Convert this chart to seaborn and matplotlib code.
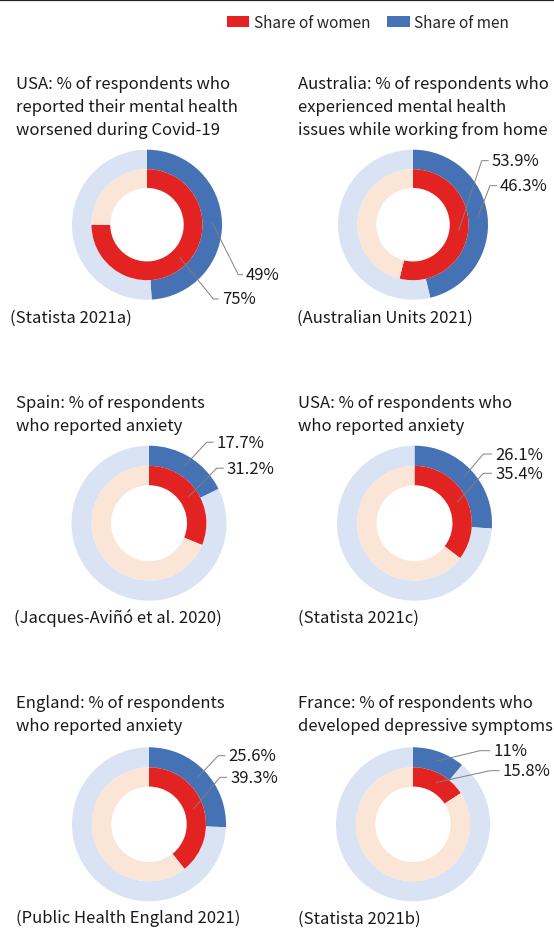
import matplotlib
matplotlib.use("Agg")
import matplotlib.pyplot as plt
from matplotlib.patches import Patch
from matplotlib.lines import Line2D
import seaborn as sns
import math

# data
titles = [
    "USA: % of respondents who\nreported their mental health\nworsened during Covid-19",
    "Australia: % of respondents who\nexperienced mental health\nissues while working from home",
    "Spain: % of respondents\nwho reported anxiety",
    "USA: % of respondents who\nwho reported anxiety",
    "England: % of respondents\nwho reported anxiety",
    "France: % of respondents who\ndeveloped depressive symptoms",
]
sources = [
    "(Statista 2021a)",
    "(Australian Units 2021)",
    "(Jacques-Aviñó et al. 2020)",
    "(Statista 2021c)",
    "(Public Health England 2021)",
    "(Statista 2021b)",
]
share_men = [49, 46.3, 17.7, 26.1, 25.6, 11]
share_women = [75, 53.9, 31.2, 35.4, 39.3, 15.8]

RED = "#E32322"
BLUE = "#4571B5"
LIGHT_BLUE = "#DAE3F3"
LIGHT_RED = "#FBE5D7"
GREY = "#808080"
TEXT = "#1a1a1a"

sns.set_theme(style="white")
plt.rcParams["font.family"] = ["Noto Sans CJK JP", "DejaVu Sans"]
FS = 12
LEG_FS = 11.1

W, H = 554, 929
fig = plt.figure(figsize=(W / 100, H / 100), dpi=100)

# layout in pixels: donut centre x, centre y, radius
centres = [(147, 225.7, 75), (413, 225.7, 75),
           (149, 524.2, 77.5), (414.5, 524.2, 77.5),
           (149, 825.3, 77), (413, 825.3, 77)]
title_x = [16, 298, 16, 298, 16, 298]
title_y = [89.3, 89.3, 408.3, 408.3, 708.3, 708.3]
source_x = [10, 297, 14, 298, 16, 298]
source_y = [322.5, 322.5, 623, 623, 923.5, 923.5]
# label layout relative to centre (px, y down): elbow x, elbow y, text x
men_lab = [(91.3, 50, 99), (77, -39, 87), (57.7, -81, 67.7),
           (68.8, -69.2, 80.5), (69.3, -68.6, 79.3), (67, -73.6, 80.3)]
women_lab = [(66.3, 74.3, 74.7), (68.7, -64, 78.7), (67.7, -55, 77.7),
             (68.8, -49.9, 80.5), (71, -47, 81), (77, -53.6, 89.7)]

OUT_W = 0.26
IN_R = 0.74
IN_W = 0.25


def fx(px):
    return px / W


def fy(py):
    return 1 - py / H


for i in range(6):
    cx, cy, r = centres[i]
    ax = fig.add_axes([fx(cx - r), fy(cy + r), 2 * r / W, 2 * r / H])
    m, w = share_men[i], share_women[i]
    ax.pie([m, 100 - m], radius=1, colors=[BLUE, LIGHT_BLUE], startangle=90,
           counterclock=False, wedgeprops=dict(width=OUT_W, edgecolor="none"))
    ax.pie([w, 100 - w], radius=IN_R, colors=[RED, LIGHT_RED], startangle=90,
           counterclock=False, wedgeprops=dict(width=IN_W, edgecolor="none"))
    ax.set_xlim(-1, 1)
    ax.set_ylim(-1, 1)
    ax.set_axis_off()

    for val, rmid, lab in [(m, 1 - OUT_W / 2, men_lab[i]),
                           (w, IN_R - IN_W / 2, women_lab[i])]:
        th = math.radians(360 * val / 100 / 2)
        ax0 = rmid * math.sin(th)
        ay0 = rmid * math.cos(th)
        ex, ey, tx = lab
        ax.plot([ax0, ex / r, (tx - 3) / r], [ay0, -ey / r, -ey / r],
                color=GREY, lw=0.7, clip_on=False, solid_capstyle="butt")
        ax.text(tx / r, -ey / r, f"{val:g}%", fontsize=FS, color=TEXT,
                ha="left", va="center")

    for k, line in enumerate(titles[i].split("\n")):
        fig.text(fx(title_x[i]), fy(title_y[i] + 22.7 * k), line,
                 fontsize=FS, color=TEXT, ha="left", va="baseline")
    fig.text(fx(source_x[i]), fy(source_y[i]), sources[i], fontsize=FS,
             color=TEXT, ha="left", va="baseline")

# legend
handles = [Patch(facecolor=RED, edgecolor="none", label="Share of women"),
           Patch(facecolor=BLUE, edgecolor="none", label="Share of men")]
fig.legend(handles=handles, ncol=2, loc="center right",
           bbox_to_anchor=(fx(509), fy(23)), frameon=False, fontsize=LEG_FS,
           handlelength=1.45, handleheight=0.7, handletextpad=0.3,
           columnspacing=1.1, borderpad=0, borderaxespad=0)

# top rule
fig.add_artist(Line2D([0, 1], [fy(1), fy(1)], color="#222222", lw=1.6))

fig.savefig("out.png", dpi=100)
